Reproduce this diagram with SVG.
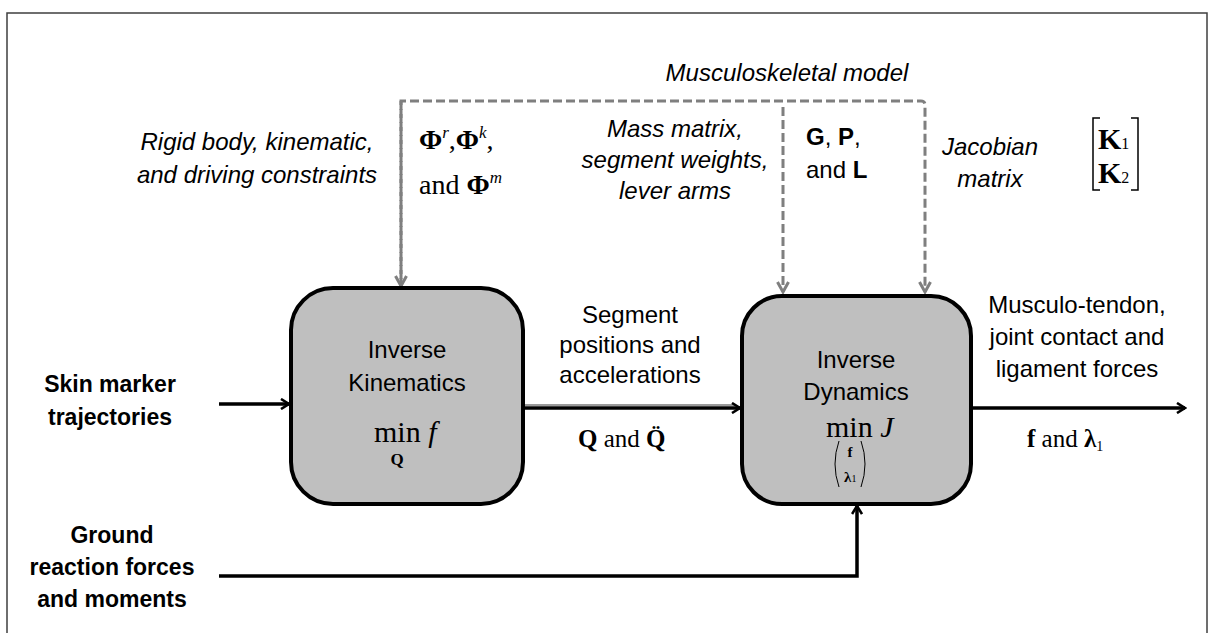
<svg xmlns="http://www.w3.org/2000/svg" width="1209" height="633" viewBox="0 0 1209 633">
  <style>
    .sans { font-family: "Liberation Sans", Arial, sans-serif; font-size: 24px; fill: #000; }
    .ital { font-family: "Liberation Sans", Arial, sans-serif; font-size: 24px; font-style: italic; fill: #000; }
    .bold { font-family: "Liberation Sans", Arial, sans-serif; font-size: 23px; font-weight: bold; fill: #000; }
    .math { font-family: "Liberation Serif", "Times New Roman", serif; fill: #000; }
    .mb { font-weight: bold; }
    .mn { font-weight: normal; }
    .mi { font-style: italic; }
    .box { fill: #bfbfbf; stroke: #000; stroke-width: 4; }
    .flow { fill: none; stroke: #000; stroke-width: 3.5; }
    .dash { fill: none; stroke: #7f7f7f; stroke-width: 3; stroke-dasharray: 9 4; }
    .mid { text-anchor: middle; }
  </style>
  <defs>
    <marker id="arrowBlack" viewBox="0 0 12 12" refX="10" refY="6" markerWidth="12" markerHeight="12" markerUnits="userSpaceOnUse" orient="auto">
      <path d="M2,1 L10,6 L2,11" fill="none" stroke="#000" stroke-width="2.6"/>
    </marker>
    <marker id="arrowGrey" viewBox="0 0 14 14" refX="12" refY="7" markerWidth="14" markerHeight="14" markerUnits="userSpaceOnUse" orient="auto">
      <path d="M2,1.5 L12,7 L2,12.5" fill="none" stroke="#7f7f7f" stroke-width="3"/>
    </marker>
  </defs>

  <rect width="1209" height="633" fill="#fff"/>
  <!-- frame -->
  <rect x="7" y="13" width="1200" height="640" fill="none" stroke="#3f3f3f" stroke-width="1.5"/>

  <!-- connectors -->
  <g id="connectors">
    <!-- musculoskeletal model bus -->
    <path class="dash" d="M401,287 V101 H921 Q925,101 925,105 V292" marker-end="url(#arrowGrey)"/>
    <path class="dash" d="M401,101 V286" marker-end="url(#arrowGrey)"/>
    <path class="dash" d="M783,107 V292" marker-end="url(#arrowGrey)"/>
    <!-- data flow -->
    <path class="flow" d="M219,404 H289" marker-end="url(#arrowBlack)"/>
    <path d="M524,405 H736" fill="none" stroke="#9a9a9a" stroke-width="2"/>
    <path class="flow" d="M523,408 H740" marker-end="url(#arrowBlack)"/>
    <path class="flow" d="M971,408 H1185" marker-end="url(#arrowBlack)"/>
    <path class="flow" d="M219,576 H857 V506" marker-end="url(#arrowBlack)"/>
  </g>

  <!-- model annotations -->
  <g id="model-label">
    <text class="ital mid" x="787" y="81">Musculoskeletal model</text>
  </g>
  <g id="constraints">
    <text class="ital mid" x="257" y="150">Rigid body, kinematic,</text>
    <text class="ital mid" x="257" y="183">and driving constraints</text>
    <text class="math" x="419" y="149" style="font-size:28px"><tspan class="mb">Φ</tspan><tspan class="mi" style="font-size:17px" dy="-11">r</tspan><tspan dy="11">,</tspan><tspan class="mb">Φ</tspan><tspan class="mi" style="font-size:17px" dy="-11">k</tspan><tspan dy="11">,</tspan></text>
    <text class="math" x="419" y="194" style="font-size:28px">and <tspan class="mb">Φ</tspan><tspan class="mi" style="font-size:17px" dy="-11">m</tspan></text>
  </g>
  <g id="mass">
    <text class="ital mid" x="675" y="137">Mass matrix,</text>
    <text class="ital mid" x="675" y="168">segment weights,</text>
    <text class="ital mid" x="675" y="199">lever arms</text>
  </g>
  <g id="gpl">
    <text class="sans" x="806" y="145"><tspan font-weight="bold">G</tspan>, <tspan font-weight="bold">P</tspan>,</text>
    <text class="sans" x="806" y="178">and <tspan font-weight="bold">L</tspan></text>
  </g>
  <g id="jacobian">
    <text class="ital mid" x="990" y="155">Jacobian</text>
    <text class="ital mid" x="990" y="187">matrix</text>
    <path d="M1100,118 H1093 V190 H1100 M1131,118 H1138 V190 H1131" fill="none" stroke="#000" stroke-width="1.5"/>
    <text class="math mb" x="1098" y="149" style="font-size:30px">K<tspan class="mn" style="font-size:16px">1</tspan></text>
    <text class="math mb" x="1098" y="183" style="font-size:30px">K<tspan class="mn" style="font-size:16px">2</tspan></text>
  </g>

  <!-- inverse kinematics -->
  <g id="inverse-kinematics">
    <rect class="box" x="291" y="288" width="232" height="216" rx="42"/>
    <text class="sans mid" x="407" y="358">Inverse</text>
    <text class="sans mid" x="407" y="391">Kinematics</text>
    <text class="math" x="374" y="442" style="font-size:30px">min <tspan class="mi">f</tspan></text>
    <text class="math mb mid" x="397" y="465" style="font-size:17px">Q</text>
  </g>

  <!-- inverse dynamics -->
  <g id="inverse-dynamics">
    <rect class="box" x="742" y="296" width="229" height="208" rx="40"/>
    <text class="sans mid" x="856" y="368">Inverse</text>
    <text class="sans mid" x="856" y="400">Dynamics</text>
    <text class="math" x="826" y="437" style="font-size:30px">min <tspan class="mi">J</tspan></text>
    <path d="M839,441 Q831,464 839,487 M861,441 Q869,464 861,487" fill="none" stroke="#000" stroke-width="1"/>
    <text class="math mb mid" x="850" y="457" style="font-size:15px">f</text>
    <text class="math mb" x="844" y="482" style="font-size:15px">λ<tspan class="mn" style="font-size:10px">1</tspan></text>
  </g>

  <!-- flow labels -->
  <g id="segment-label">
    <text class="sans mid" x="630" y="323">Segment</text>
    <text class="sans mid" x="630" y="353">positions and</text>
    <text class="sans mid" x="630" y="383">accelerations</text>
    <text class="math" x="578" y="447" style="font-size:25px"><tspan class="mb">Q</tspan> and <tspan class="mb">Q&#x308;</tspan></text>
  </g>
  <g id="force-label">
    <text class="sans mid" x="1077" y="313">Musculo-tendon,</text>
    <text class="sans mid" x="1077" y="345">joint contact and</text>
    <text class="sans mid" x="1077" y="377">ligament forces</text>
    <text class="math" x="1027" y="447" style="font-size:25px"><tspan class="mb">f</tspan>  and <tspan class="mb">λ</tspan><tspan style="font-size:14px" dy="4">1</tspan></text>
  </g>
  <g id="skin-marker">
    <text class="bold mid" x="110" y="392">Skin marker</text>
    <text class="bold mid" x="110" y="425">trajectories</text>
  </g>
  <g id="ground-reaction">
    <text class="bold mid" x="112" y="543">Ground</text>
    <text class="bold mid" x="112" y="575">reaction forces</text>
    <text class="bold mid" x="112" y="607">and moments</text>
  </g>
</svg>
